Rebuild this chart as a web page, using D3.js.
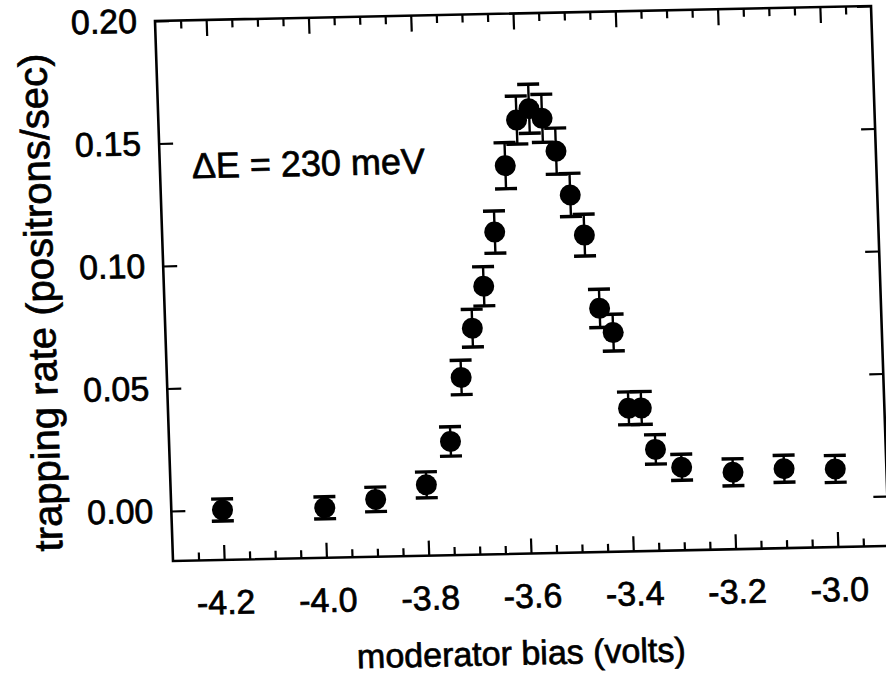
<!DOCTYPE html>
<html>
<head>
<meta charset="utf-8">
<script src="https://cdn.jsdelivr.net/npm/d3@7"></script>
<style>
  body { margin: 0; background: #fff; }
  text { font-family: "Liberation Sans", Arial, sans-serif; fill: #000; stroke: #000; stroke-width: 0.7px; }
</style>
</head>
<body>
<div id="chart"></div>
<script>
const width = 886;
const height = 678;
const plotW = 716;
const plotH = 540;

// moderator bias (volts), trapping rate (positrons/sec) and its error
const bias = [-4.2, -4.0, -3.9, -3.8, -3.75, -3.725, -3.7, -3.675, -3.65, -3.625, -3.6, -3.575, -3.55,
              -3.525, -3.5, -3.475, -3.45, -3.425, -3.4, -3.375, -3.35, -3.3, -3.2, -3.1, -3.0];
const rate = [0.000, 0.000, 0.003, 0.0085, 0.026, 0.052, 0.072, 0.089, 0.111, 0.138, 0.1565, 0.161, 0.157,
              0.1435, 0.1255, 0.109, 0.079, 0.069, 0.038, 0.038, 0.021, 0.0135, 0.011, 0.012, 0.0115];
const err = [0.0045, 0.0045, 0.005, 0.0053, 0.006, 0.007, 0.0077, 0.008, 0.0086, 0.0094, 0.0098, 0.010, 0.0098,
             0.0094, 0.0088, 0.0085, 0.0078, 0.0075, 0.0067, 0.0067, 0.006, 0.0053, 0.0055, 0.0055, 0.0055];

const xTicks = [-4.2, -4.0, -3.8, -3.6, -3.4, -3.2, -3.0];
const yTicks = [0.00, 0.05, 0.10, 0.15, 0.20];
const xTitle = "moderator bias (volts)";
const yTitle = "trapping rate (positrons/sec)";
const note = "\u0394E = 230 meV";

const data = bias.map((b, i) => ({ bias: b, rate: rate[i], err: err[i] }));

const svg = d3.select("#chart").append("svg")
    .attr("width", width)
    .attr("height", height);

// the original is a scan, slightly skewed: draw everything in a sheared group
const g = svg.append("g")
    .attr("transform", `matrix(1,${-15 / 716},${18 / 540},1,155,21)`);

const x = d3.scaleLinear().domain([-4.30, -2.90]).range([0, plotW]);
const y = d3.scaleLinear().domain([-0.0204, 0.20]).range([plotH, 0]);

const minorX = d3.range(-4.25, -2.9, 0.05)
    .map(v => +v.toFixed(2))
    .filter(v => !xTicks.some(t => Math.abs(t - v) < 1e-6));

function style(sel, size) {
    sel.attr("font-size", size).attr("font-family", null);
    sel.select(".domain").remove();
    sel.selectAll(".tick line").attr("stroke", "#000").attr("stroke-width", 2.2);
}

// bottom axis (plain hyphen as in the original)
g.append("g")
    .attr("transform", `translate(0,${plotH})`)
    .call(d3.axisBottom(x).tickValues(xTicks).tickSize(-15).tickPadding(30).tickFormat(d => d.toFixed(1)))
    .call(style, 34);
g.append("g")
    .attr("transform", `translate(0,${plotH})`)
    .call(d3.axisBottom(x).tickValues(minorX).tickSize(-8).tickFormat(""))
    .call(style, 34);

// top axis
g.append("g")
    .call(d3.axisTop(x).tickValues(xTicks).tickSize(-16).tickFormat(""))
    .call(style, 34);
g.append("g")
    .call(d3.axisTop(x).tickValues(minorX).tickSize(-8).tickFormat(""))
    .call(style, 34);

// left and right axes
g.append("g")
    .call(d3.axisLeft(y).tickValues(yTicks).tickSize(-14).tickPadding(18).tickFormat(d => d.toFixed(2)))
    .call(style, 34);
g.append("g")
    .attr("transform", `translate(${plotW},0)`)
    .call(d3.axisRight(y).tickValues(yTicks).tickSize(-14).tickFormat(""))
    .call(style, 34);

// frame
g.append("rect")
    .attr("width", plotW)
    .attr("height", plotH)
    .attr("fill", "none")
    .attr("stroke", "#000")
    .attr("stroke-width", 2.6);

// error bars
const bars = g.append("g").attr("stroke", "#000");
bars.selectAll(".stem")
    .data(data)
    .join("line")
    .attr("class", "stem")
    .attr("x1", d => x(d.bias)).attr("x2", d => x(d.bias))
    .attr("y1", d => y(d.rate - d.err)).attr("y2", d => y(d.rate + d.err))
    .attr("stroke-width", 2.4);
bars.selectAll(".cap")
    .data(data.flatMap(d => [{ bias: d.bias, v: d.rate - d.err }, { bias: d.bias, v: d.rate + d.err }]))
    .join("line")
    .attr("class", "cap")
    .attr("x1", d => x(d.bias) - 11).attr("x2", d => x(d.bias) + 11)
    .attr("y1", d => y(d.v)).attr("y2", d => y(d.v))
    .attr("stroke-width", 3.4);

// points
g.append("g")
    .selectAll("circle")
    .data(data)
    .join("circle")
    .attr("cx", d => x(d.bias))
    .attr("cy", d => y(d.rate))
    .attr("r", 10.5)
    .attr("fill", "#000");

// annotation
g.append("text")
    .attr("x", 32)
    .attr("y", 158)
    .attr("font-size", 36)
    .text(note);

// axis titles
g.append("text")
    .attr("x", plotW / 2 - 13)
    .attr("y", 651)
    .attr("text-anchor", "middle")
    .attr("font-size", 34)
    .text(xTitle);

g.append("text")
    .attr("transform", "translate(-110,279) rotate(-90)")
    .attr("text-anchor", "middle")
    .attr("font-size", 40)
    .text(yTitle);
</script>
</body>
</html>
